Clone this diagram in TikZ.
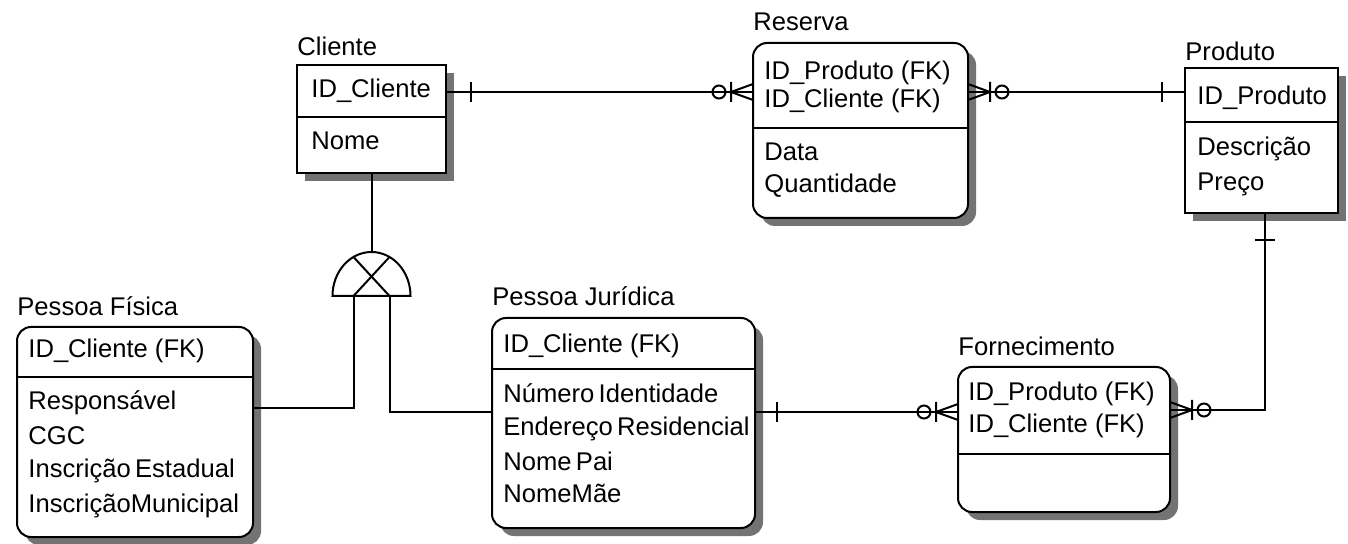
\documentclass[tikz,border=0pt]{standalone}
\usepackage{fontspec}
\setmainfont{Liberation Sans}
\usetikzlibrary{shadows,calc}
\newcommand{\erfont}{\fontsize{12.8}{15}\selectfont}

\tikzset{
	ent/.style={draw, line width=1pt, fill=white, anchor=north west, inner sep=0pt, outer sep=0pt,
		drop shadow={shadow xshift=4pt, shadow yshift=-4pt, fill=black!55, opacity=1}},
	dep/.style={ent, rounded corners=7pt},
	txt/.style={anchor=mid west, inner sep=0pt, font=\erfont},
	rel/.style={line width=1pt},
	manyfoot/.pic={
		\draw[rel] (22,-8) -- (0,0) -- (22,8) (0,-10) -- (0,10);
		\draw[rel] (-12,0) circle[radius=6.5];
	},
	onebar/.pic={
		\draw[rel] (0,-10) -- (0,10);
	}
}

\begin{document}
\begin{tikzpicture}[x=0.5pt,y=-0.5pt]
		\fill[white] (0,0) rectangle (1348,544);
		\useasboundingbox (0,0) rectangle (1348,544);
		% entidades
		\node[ent, minimum width=74.5pt, minimum height=54pt] (cliente) at (297,65) {};
		\draw[rel] ([yshift=-26pt]cliente.north west) -- ([yshift=-26pt]cliente.north east);
		\node[txt] (cliente-lbl) at (297,50) {Cliente};
		\node[txt] (cliente-pk) at (311,92) {ID\_Cliente};
		\node[txt] (cliente-nome) at (311,144) {Nome};

		\node[dep, minimum width=107.5pt, minimum height=87.5pt] (reserva) at (753,43) {};
		\draw[rel] ([yshift=-42.5pt]reserva.north west) -- ([yshift=-42.5pt]reserva.north east);
		\node[txt] (reserva-lbl) at (753,25) {Reserva};
		\node[txt] (reserva-fk1) at (764,74) {ID\_Produto (FK)};
		\node[txt] (reserva-fk2) at (764,102) {ID\_Cliente (FK)};
		\node[txt] (reserva-data) at (764,155) {Data};
		\node[txt] (reserva-qtd) at (764,187) {Quantidade};

		\node[ent, minimum width=76.5pt, minimum height=72.5pt] (produto) at (1185,68) {};
		\draw[rel] ([yshift=-27pt]produto.north west) -- ([yshift=-27pt]produto.north east);
		\node[txt] (produto-lbl) at (1185,55) {Produto};
		\node[txt] (produto-pk) at (1197,99) {ID\_Produto};
		\node[txt] (produto-desc) at (1197,150) {Descrição};
		\node[txt] (produto-preco) at (1197,185) {Preço};

		\node[dep, minimum width=118pt, minimum height=105pt] (pfisica) at (17,327) {};
		\draw[rel] ([yshift=-25pt]pfisica.north west) -- ([yshift=-25pt]pfisica.north east);
		\node[txt] (pfisica-lbl) at (17,310) {Pessoa Física};
		\node[txt] (pfisica-fk) at (28,352) {ID\_Cliente (FK)};
		\node[txt] (pfisica-resp) at (28,404) {Responsável};
		\node[txt] (pfisica-cgc) at (28,439) {CGC};
		\node[txt] (pfisica-ie) at (28,472) {Inscrição\,Estadual};
		\node[txt] (pfisica-im) at (28,507) {InscriçãoMunicipal};

		\node[dep, minimum width=131.5pt, minimum height=105pt] (pjuridica) at (492,318) {};
		\draw[rel] ([yshift=-25.5pt]pjuridica.north west) -- ([yshift=-25.5pt]pjuridica.north east);
		\node[txt] (pjuridica-lbl) at (492,300) {Pessoa Jurídica};
		\node[txt] (pjuridica-fk) at (503,347) {ID\_Cliente (FK)};
		\node[txt] (pjuridica-num) at (503,397) {Número\,Identidade};
		\node[txt] (pjuridica-end) at (503,430) {Endereço\,Residencial};
		\node[txt] (pjuridica-pai) at (503,465) {Nome\,Pai};
		\node[txt] (pjuridica-mae) at (503,497) {NomeMãe};

		\node[dep, minimum width=106pt, minimum height=72.5pt] (fornec) at (958,367) {};
		\draw[rel] ([yshift=-43.5pt]fornec.north west) -- ([yshift=-43.5pt]fornec.north east);
		\node[txt] (fornec-lbl) at (958,350) {Fornecimento};
		\node[txt] (fornec-fk1) at (968,395) {ID\_Produto (FK)};
		\node[txt] (fornec-fk2) at (968,427) {ID\_Cliente (FK)};

		% subtipo
		\coordinate (sub) at (371.5,296);
		\coordinate (subtop) at ($(sub)+(0,-44)$);
		\coordinate (subL) at ($(sub)+(-18,0)$);
		\coordinate (subR) at ($(sub)+(18,0)$);
		\draw[rel] ($(sub)+(-39,0)$) arc[start angle=180, end angle=360, x radius=39, y radius=44] -- cycle;
		\draw[rel] ($(sub)+(-18,-39)$) -- (subR);
		\draw[rel] ($(sub)+(18,-39)$) -- (subL);
		\draw[rel] (cliente.south) -- (subtop);
		\coordinate (kneeL) at (353.5,408);
		\coordinate (kneeR) at (389.5,412);
		\draw[rel] (subL) -- (kneeL) -- (pfisica.east |- kneeL);
		\draw[rel] (subR) -- (kneeR) -- (pjuridica.west |- kneeR);

		% relacionamentos
		\coordinate (resfootL) at (731,92);
		\coordinate (resfootR) at (990,92);
		\coordinate (fornfootL) at (936,412);
		\coordinate (fornfootR) at (1192,410);
		\coordinate (prodknee) at (1265,410);
		\draw[rel] (cliente.east |- resfootL) -- (reserva.west |- resfootL);
		\draw[rel] (reserva.east |- resfootR) -- (produto.west |- resfootR);
		\draw[rel] (pjuridica.east |- fornfootL) -- (fornec.west |- fornfootL);
		\draw[rel] (fornec.east |- fornfootR) -- (prodknee) -- (prodknee |- produto.south);
		\pic at (resfootL) {manyfoot};
		\pic[rotate=180] at (resfootR) {manyfoot};
		\pic at (fornfootL) {manyfoot};
		\pic[rotate=180] at (fornfootR) {manyfoot};
		\pic at (471,92) {onebar};
		\pic at (1162,92) {onebar};
		\pic at (777,412) {onebar};
		\pic[rotate=90] at (1265,240) {onebar};
\end{tikzpicture}
\end{document}
